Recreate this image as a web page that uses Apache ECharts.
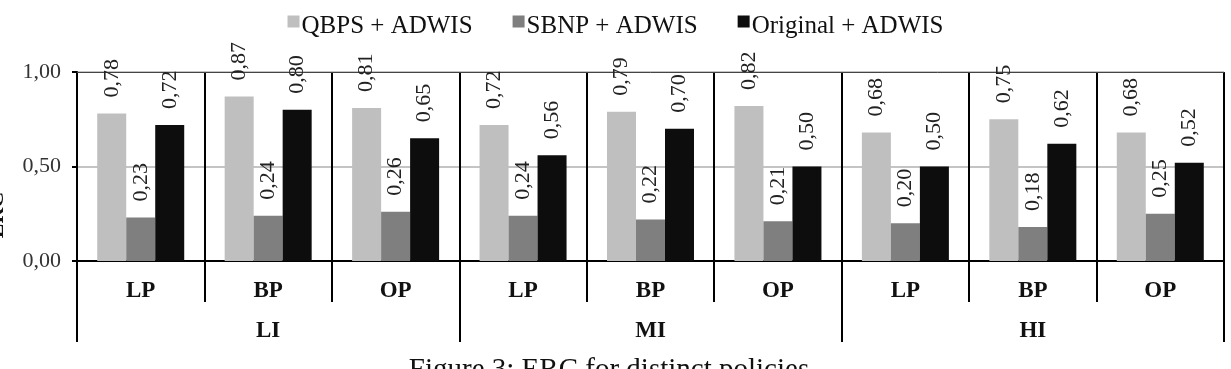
<!DOCTYPE html>
<html>
<head>
<meta charset="utf-8">
<title>ERC for distinct policies</title>
<script src="https://cdn.jsdelivr.net/npm/echarts@6/dist/echarts.min.js"></script>
<style>
    html, body { margin: 0; padding: 0; background: #fff; }
    #chart { width: 1231px; height: 369px; }
</style>
</head>
<body>
<div id="chart"></div>
<script>
// 数据
const policies = ['LP', 'BP', 'OP', 'LP', 'BP', 'OP', 'LP', 'BP', 'OP'];
const intensities = ['LI', 'MI', 'HI'];
const seriesNames = ['QBPS + ADWIS', 'SBNP + ADWIS', 'Original + ADWIS'];
const qbpsValues = [0.78, 0.87, 0.81, 0.72, 0.79, 0.82, 0.68, 0.75, 0.68];
const sbnpValues = [0.23, 0.24, 0.26, 0.24, 0.22, 0.21, 0.20, 0.18, 0.25];
const originalValues = [0.72, 0.80, 0.65, 0.56, 0.70, 0.50, 0.50, 0.62, 0.52];
const yTicks = [0, 0.5, 1];

const serif = "'Liberation Serif', 'Times New Roman', serif";
const colors = ['#bfbfbf', '#7f7f7f', '#0d0d0d'];

// 逗号作小数点
function fmt(v) {
    return Number(v).toFixed(2).replace('.', ',');
}

const chart = echarts.init(document.getElementById('chart'));

// 图例方块偏上
const legendIcon = 'path://M0,0h12v12h-12z M0,22h0.01v0.01h-0.01z';

function barSeries(name, values, color) {
    return {
        name: name,
        type: 'bar',
        xAxisIndex: 0,
        yAxisIndex: 0,
        data: values,
        barWidth: 29,
        barGap: '0%',
        itemStyle: { color: color },
        label: {
            show: true,
            position: 'top',
            distance: 16,
            rotate: 90,
            align: 'left',
            verticalAlign: 'middle',
            fontFamily: serif,
            fontSize: 22,
            color: '#222',
            formatter: p => fmt(p.value)
        }
    };
}

const option = {
    animation: false,
    legend: {
        top: 9,
        left: 'center',
        itemWidth: 12,
        itemHeight: 22,
        itemGap: 40,
        icon: legendIcon,
        textStyle: { fontFamily: serif, fontSize: 25, color: '#111', padding: [0, 0, 0, -3] },
        data: seriesNames
    },
    grid: { left: 77, right: 7, top: 72, bottom: 108 },
    xAxis: [
        {
            type: 'category',
            position: 'bottom',
            data: policies,
            axisLine: { lineStyle: { color: '#000', width: 2 } },
            axisTick: { show: true, length: 41, lineStyle: { color: '#000', width: 2 } },
            splitLine: { show: true, lineStyle: { color: '#000', width: 2 } },
            axisLabel: { margin: 19, fontFamily: serif, fontSize: 23, fontWeight: 'bold', color: '#111' }
        },
        {
            type: 'category',
            position: 'bottom',
            data: intensities,
            axisLine: { show: false },
            axisTick: { show: true, length: 81, lineStyle: { color: '#000', width: 2 } },
            splitLine: { show: false },
            axisLabel: { margin: 59, fontFamily: serif, fontSize: 23, fontWeight: 'bold', color: '#111' }
        },
        {
            type: 'category',
            position: 'top',
            data: policies,
            axisLine: { lineStyle: { color: '#444', width: 1 } },
            axisTick: { show: false },
            axisLabel: { show: false }
        }
    ],
    yAxis: {
        type: 'value',
        min: yTicks[0],
        max: yTicks[yTicks.length - 1],
        interval: 0.5,
        axisLine: { show: true, lineStyle: { color: '#000', width: 2 } },
        axisTick: { show: true, length: 5, lineStyle: { color: '#000', width: 2 } },
        splitLine: { show: true, lineStyle: { color: '#c4c4c4', width: 2 } },
        axisLabel: { margin: 16, fontFamily: serif, fontSize: 22, color: '#333', formatter: v => fmt(v) }
    },
    graphic: [
        {
            type: 'text',
            x: 8,
            y: 215,
            rotation: Math.PI / 2,
            style: {
                text: 'ERC',
                font: 'bold 22px ' + serif,
                fill: '#111',
                textAlign: 'center',
                textVerticalAlign: 'bottom'
            }
        },
        {
            type: 'text',
            x: 609,
            y: 356,
            style: {
                text: 'Figure 3: ERC for distinct policies',
                font: '29px ' + serif,
                fill: '#111',
                textAlign: 'center',
                textVerticalAlign: 'top'
            }
        }
    ],
    series: [
        barSeries(seriesNames[0], qbpsValues, colors[0]),
        barSeries(seriesNames[1], sbnpValues, colors[1]),
        barSeries(seriesNames[2], originalValues, colors[2])
    ]
};

chart.setOption(option);
</script>
</body>
</html>
